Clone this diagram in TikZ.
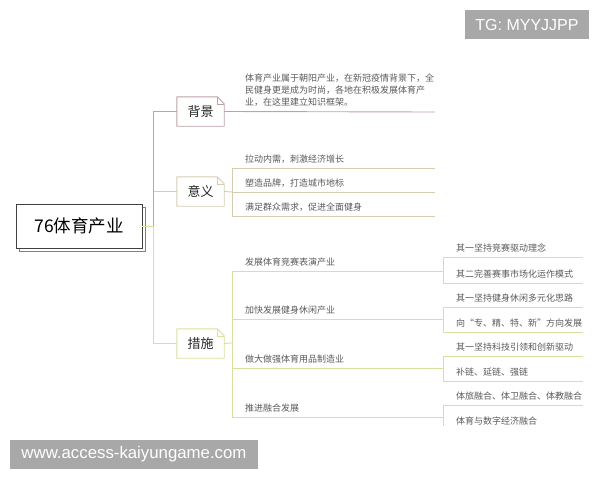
\documentclass[tikz,border=0pt]{standalone}
\usepackage{fontspec}
\setmainfont{Noto Sans CJK SC}
\newfontfamily\wmfont{Liberation Sans}
\usetikzlibrary{shadows}

\definecolor{bgline}{HTML}{BFA2A5}
\definecolor{yyline}{HTML}{D6CCB2}
\definecolor{csline}{HTML}{D8E1A0}
\definecolor{leaftext}{HTML}{5A5A5A}
\definecolor{wmgray}{HTML}{A8A8A8}

\tikzset{
  topic/.style={minimum width=47pt, minimum height=29pt, inner sep=0pt,
    font=\fontsize{13}{15}\selectfont, text=black!85},
  leaf/.style={anchor=base west, inner sep=0pt,
    font=\fontsize{9}{12.3}\selectfont, text=leaftext},
  branch/.style={line width=.9pt},
  wmbox/.style={fill=wmgray, text=white, inner sep=0pt,
    font=\wmfont\fontsize{16}{18}\selectfont}
}

% note box with a folded corner round a node
\newcommand\foldbox[2]{%
  \draw[#2, line width=.9pt, line join=round] (#1.south west) -- (#1.north west)
    -- ([xshift=-7pt]#1.north east) -- ([yshift=-7pt]#1.north east)
    -- (#1.south east) -- cycle;
  \draw[#2, line width=.6pt] ([xshift=-7pt]#1.north east)
    -- ([xshift=-7pt,yshift=-7pt]#1.north east) -- ([yshift=-7pt]#1.north east);
}

\begin{document}
\begin{tikzpicture}[x=1pt,y=-1pt]
  \useasboundingbox (0,0) rectangle (600,480);

  % root and topics
  \node[draw=black!75, fill=white, line width=.9pt, minimum width=126pt,
    minimum height=44pt, font=\fontsize{17.5}{20}\selectfont,
    copy shadow={shadow xshift=3pt, shadow yshift=-3pt, draw=black!50, fill=white}]
    (root) at (79,226) {76体育产业};
  \coordinate (trunk) at (153,226);

  \begin{scope}[every node/.style={topic}]
    \node (bg) at (200.5,111.5) {背景};
    \node (yy) at (200.5,191.5) {意义};
    \node (cs) at (200.5,343.5) {措施};
  \end{scope}
  \foldbox{bg}{bgline}
  \foldbox{yy}{yyline}
  \foldbox{cs}{csline}

  \draw[branch, csline] (root.east) -- (trunk);
  \draw[branch, csline] (trunk) |- (cs.west);
  \draw[branch, yyline] (trunk) |- (yy.west);
  \draw[branch, bgline] (trunk) |- (bg.west);

  % background
  \coordinate (bgend) at (435,112);
  \draw[branch, bgline] (bg.east) -- (bgend);
  \node[leaf, anchor=north west, align=left] (bgtext) at (245,73.5)
    {体育产业属于朝阳产业，在新冠疫情背景下，全\\民健身更是成为时尚，各地在积极发展体育产\\业，在这里建立知识框架。};

  % meaning
  \begin{scope}[every path/.style={branch, yyline}]
    \coordinate (yyj) at (232,192);
    \coordinate (yy1a) at (232,168); \coordinate (yy1b) at (435,168);
    \coordinate (yy2a) at (232,192); \coordinate (yy2b) at (435,192);
    \coordinate (yy3a) at (232,216); \coordinate (yy3b) at (435,216);
    \draw (yy.east) -- (yyj);
    \draw (yy1a) -- (yy3a);
    \draw (yy1a) -- (yy1b);
    \draw (yy2a) -- (yy2b);
    \draw (yy3a) -- (yy3b);
  \end{scope}
  \node[leaf] (yy1) at (245,162) {拉动内需，刺激经济增长};
  \node[leaf] (yy2) at (245,186) {塑造品牌，打造城市地标};
  \node[leaf] (yy3) at (245,210) {满足群众需求，促进全面健身};

  % measures
  \begin{scope}[every path/.style={branch, csline}]
    \coordinate (csj) at (232,343);
    \coordinate (cs1a) at (232,271); \coordinate (cs1b) at (443,271);
    \coordinate (cs2a) at (232,319); \coordinate (cs2b) at (443,319);
    \coordinate (cs3a) at (232,368); \coordinate (cs3b) at (443,368);
    \coordinate (cs4a) at (232,417); \coordinate (cs4b) at (443,417);
    \draw (cs.east) -- (csj);
    \draw (cs1a) -- (cs4a);
    \draw (cs1a) -- (cs1b);
    \draw (cs2a) -- (cs2b);
    \draw (cs3a) -- (cs3b);
    \draw (cs4a) -- (cs4b);
    % second level
    \coordinate (g1a) at (443,257); \coordinate (g1b) at (583,257);
    \coordinate (g2a) at (443,283); \coordinate (g2b) at (583,283);
    \coordinate (g3a) at (443,307); \coordinate (g3b) at (583,307);
    \coordinate (g4a) at (443,332); \coordinate (g4b) at (583,332);
    \coordinate (g5a) at (443,356); \coordinate (g5b) at (583,356);
    \coordinate (g6a) at (443,381); \coordinate (g6b) at (583,381);
    \coordinate (g7a) at (443,405); \coordinate (g7b) at (583,405);
    \coordinate (g8a) at (443,426);
    \draw (g1a) -- (g2a);
    \draw (g3a) -- (g4a);
    \draw (g5a) -- (g6a);
    \draw (g7a) -- (g8a);
    \draw (g1a) -- (g1b);
    \draw (g2a) -- (g2b);
    \draw (g3a) -- (g3b);
    \draw (g4a) -- (g4b);
    \draw (g5a) -- (g5b);
    \draw (g6a) -- (g6b);
    \draw (g7a) -- (g7b);
  \end{scope}
  \node[leaf] (cs1) at (245,265) {发展体育竞赛表演产业};
  \node[leaf] (cs2) at (245,313) {加快发展健身休闲产业};
  \node[leaf] (cs3) at (245,362) {做大做强体育用品制造业};
  \node[leaf] (cs4) at (245,411) {推进融合发展};
  \node[leaf] (g1) at (456,251) {其一坚持竞赛驱动理念};
  \node[leaf] (g2) at (456,277) {其二完善赛事市场化运作模式};
  \node[leaf] (g3) at (456,301) {其一坚持健身休闲多元化思路};
  \node[leaf] (g4) at (456,326) {向“专、精、特、新”方向发展};
  \node[leaf] (g5) at (456,350) {其一坚持科技引领和创新驱动};
  \node[leaf] (g6) at (456,375) {补链、延链、强链};
  \node[leaf] (g7) at (456,399) {体旅融合、体卫融合、体教融合};
  \node[leaf] (g8) at (456,424) {体育与数字经济融合};

  % watermarks
  \node[wmbox, minimum width=124pt, minimum height=29pt] (tg) at (527,24.5) {TG: MYYJJPP};
  \node[wmbox, minimum width=248pt, minimum height=29pt,
    font=\wmfont\fontsize{16.8}{18}\selectfont] (www) at (134,454.5) {www.access-kaiyungame.com};
\end{tikzpicture}
\end{document}
